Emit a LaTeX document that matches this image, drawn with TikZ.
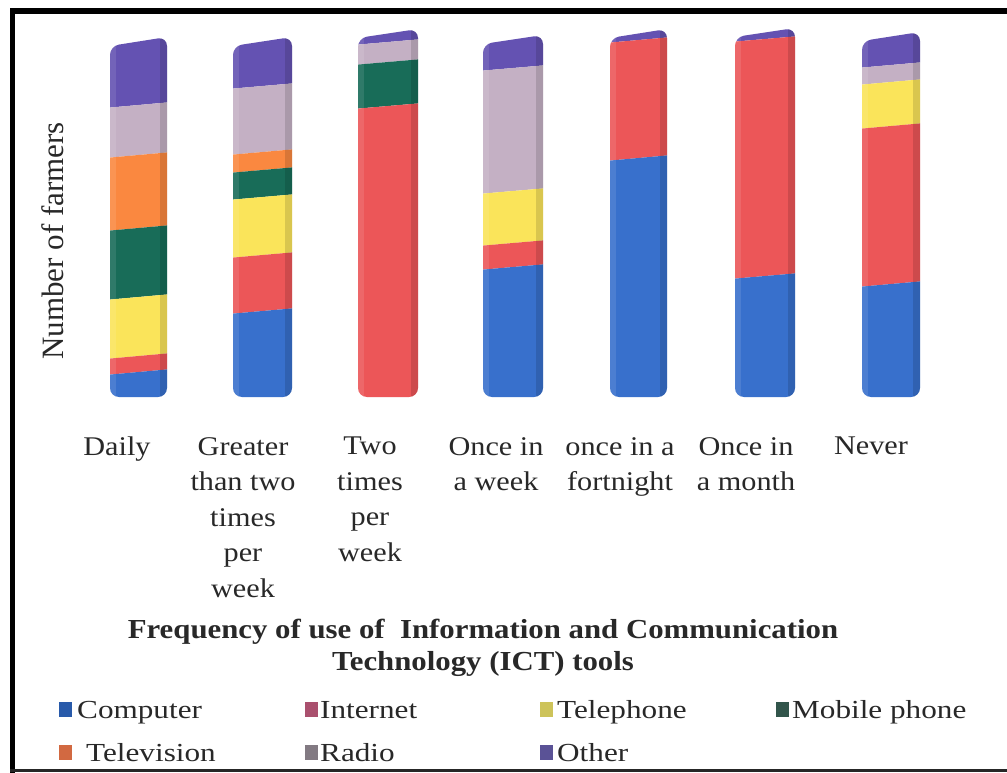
\documentclass[tikz,border=0pt]{standalone}
\usepackage{fontspec}
\setmainfont{Liberation Serif}
\newfontfamily\catfont[FakeStretch=1.12]{Liberation Serif}
\newfontfamily\legfont[FakeStretch=1.2]{Liberation Serif}
\newfontfamily\titfont[FakeStretch=1.12]{Liberation Serif}
\definecolor{txt}{RGB}{40,40,40}
\definecolor{cblue}{RGB}{56,112,204}
\definecolor{cred}{RGB}{236,86,88}
\definecolor{cyel}{RGB}{250,228,90}
\definecolor{cgreen}{RGB}{24,108,88}
\definecolor{corange}{RGB}{250,136,64}
\definecolor{cradio}{RGB}{196,176,196}
\definecolor{cpurple}{RGB}{100,82,178}
\definecolor{kblue}{RGB}{40,90,170}
\definecolor{kred}{RGB}{170,80,110}
\definecolor{kyel}{RGB}{205,195,90}
\definecolor{kgreen}{RGB}{50,85,75}
\definecolor{korange}{RGB}{210,105,65}
\definecolor{kradio}{RGB}{130,122,130}
\definecolor{kpurple}{RGB}{90,82,150}
% #1 left, #2 right, #3 top, #4 colour/bottom list
\newcommand{\icbar}[4]{%
  \begin{scope}
    \clip[rounded corners=9pt] (#1,397) -- (#1,#3+9) -- (#2,#3) -- (#2,397) -- cycle;
    \foreach \c/\yb [remember=\yb as \ya (initially 0)] in {#4} {
      \fill[\c] (#1-5,\ya+3) -- (#2+5,\ya-3) -- (#2+5,\yb-3) -- (#1-5,\yb+3) -- cycle;
    }
    \fill[black,opacity=0.13] (#2-7,0) rectangle (#2+2,420);
    \fill[white,opacity=0.10] (#1-2,0) rectangle (#1+6,420);
  \end{scope}}
\tikzset{
  catlab/.style={anchor=north, align=center, font=\catfont\fontsize{27}{35.5}\selectfont},
  legtext/.style={anchor=base west, font=\legfont\fontsize{26}{30}\selectfont},
  legkey/.style={minimum width=13pt, minimum height=15pt, anchor=north west}
}
\begin{document}
\begin{tikzpicture}[x=1pt,y=-1pt, every node/.style={inner sep=0pt, text=txt}]
\useasboundingbox (0,0) rectangle (1007,773);
\fill[white] (0,0) rectangle (1007,773);
% frame
\fill[black] (10,8) rectangle (1007,14);
\fill[black] (10,8) rectangle (15,773);
\fill[black!85] (10,769) rectangle (1007,771.5);
% bars
\icbar{110}{167}{37}{cpurple/105, cradio/155, corange/228, cgreen/297, cyel/356, cred/372, cblue/430}
\icbar{233}{292}{37}{cpurple/86, cradio/152, corange/170, cgreen/197, cyel/255, cred/311, cblue/430}
\icbar{358}{418}{29}{cpurple/42, cradio/62, cgreen/106, cred/430}
\icbar{483}{543}{35}{cpurple/68, cradio/191, cyel/243, cred/267, cblue/430}
\icbar{610}{667}{29}{cpurple/40, cred/158, cblue/430}
\icbar{735}{795}{28}{cpurple/39, cred/276, cblue/430}
\icbar{862}{920}{32}{cpurple/65, cradio/82, cyel/126, cred/284, cblue/430}
% axis label
\node[rotate=90, anchor=base, font=\fontsize{31}{36}\selectfont] (ylab) at (63,241) {Number of farmers};
% category labels
\node[catlab] (c1) at (117,437) {Daily};
\node[catlab] (c2) at (243,437) {Greater\\than two\\times\\per\\week};
\node[catlab] (c3) at (370,437) {Two\\times\\per\\week};
\node[catlab] (c4) at (496,437) {Once in\\a week};
\node[catlab] (c5) at (620,437) {once in a\\fortnight};
\node[catlab] (c6) at (746,437) {Once in\\a month};
\node[catlab] (c7) at (871,437) {Never};
% title
\node[anchor=north, align=center, font=\titfont\bfseries\fontsize{27.5}{32}\selectfont] (title) at (483,619)
  {Frequency of use of \ Information and Communication\\Technology (ICT) tools};
% legend
\node[legkey, fill=kblue] (k1) at (59,702) {};
\node[legtext] (l1) at (77,718) {Computer};
\node[legkey, fill=kred] (k2) at (305,702) {};
\node[legtext] (l2) at (320,718) {Internet};
\node[legkey, fill=kyel] (k3) at (540,702) {};
\node[legtext] (l3) at (557,718) {Telephone};
\node[legkey, fill=kgreen] (k4) at (776,702) {};
\node[legtext] (l4) at (792,718) {Mobile phone};
\node[legkey, fill=korange] (k5) at (59,745) {};
\node[legtext] (l5) at (86,761) {Television};
\node[legkey, fill=kradio] (k6) at (305,745) {};
\node[legtext] (l6) at (320,761) {Radio};
\node[legkey, fill=kpurple] (k7) at (540,745) {};
\node[legtext] (l7) at (557,761) {Other};
\end{tikzpicture}
\end{document}
